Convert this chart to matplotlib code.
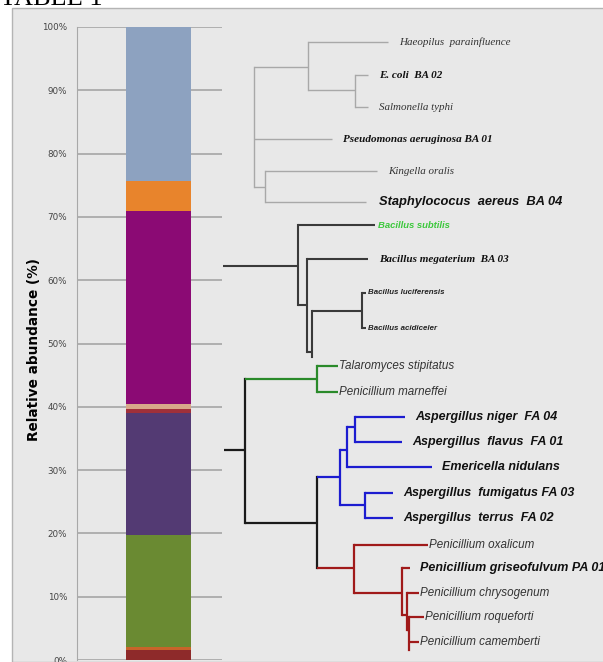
import matplotlib.pyplot as plt
from matplotlib.patches import Rectangle

# stacked bar (values in %, from bottom to top)
seg_values = [1.6, 0.5, 17.6, 19.3, 0.6, 0.8, 30.5, 4.8, 24.3]
seg_colors = ['#8e2a2a', '#c8642a', '#6a8a32', '#533a73', '#a0303a',
              '#d8a88a', '#8b0a74', '#e8842c', '#8da2c0']
yticks = [0, 10, 20, 30, 40, 50, 60, 70, 80, 90, 100]
ytick_labels = ['0%', '10%', '20%', '30%', '40%', '50%', '60%', '70%', '80%', '90%', '100%']


# trees, read in image pixels: node(x, y, kids...), leaf(x_end, y, name, style)
def node(x, y, *kids, color=None):
    return {'x': x, 'y': y, 'kids': kids, 'color': color}


def leaf(x, y, name='', style='serif_i', color=None):
    return {'x': x, 'y': y, 'kids': (), 'name': name, 'style': style, 'color': color}


ecoli = node(355, 90,
             leaf(368, 75, 'E. coli  BA 02', 'serif_bi'),
             leaf(368, 107, 'Salmonella typhi'))
haeo = node(308, 67, leaf(388, 42, 'Haeopilus  parainfluence'), ecoli)
staph = node(265, 187,
             leaf(377, 171, 'Kingella oralis'),
             leaf(366, 202, 'Staphylococus  aereus  BA 04', 'sans_big'))
bact_tree = node(254, 127, haeo,
                 leaf(332, 139, 'Pseudomonas aeruginosa BA 01', 'serif_bi'),
                 staph, color='#a8a8a8')
bact_stem = None

luci = node(362, 311,
            leaf(366, 293, 'Bacillus luciferensis', 'sans_small'),
            leaf(366, 328, 'Bacillus acidiceler', 'sans_small'))
mega = node(307, 305,
            leaf(368, 259, 'Bacillus megaterium  BA 03', 'serif_bi'),
            node(312, 352, luci, leaf(312, 357)))
bacil_tree = node(298, 266, leaf(375, 225, 'Bacillus subtilis', 'sans_small_green'),
                  mega, color='#3a3a3a')
bacil_stem = 223

talaro = node(317, 379,
              leaf(338, 366, 'Talaromyces stipitatus', 'sans_i'),
              leaf(338, 392, 'Penicillium marneffei', 'sans_i'),
              color='#2a8a2a')
niger = node(355, 427,
             leaf(405, 417, 'Aspergillus niger  FA 04', 'sans_bi'),
             leaf(402, 442, 'Aspergillus  flavus  FA 01', 'sans_bi'))
fumig = node(365, 505,
             leaf(393, 493, 'Aspergillus  fumigatus FA 03', 'sans_bi'),
             leaf(393, 518, 'Aspergillus  terrus  FA 02', 'sans_bi'))
asper = node(340, 477,
             node(347, 450, niger, leaf(432, 467, 'Emericella nidulans', 'sans_bi')),
             fumig, color='#1c1cd0')
roque = node(409, 630,
             leaf(424, 617, 'Penicillium roqueforti', 'sans_i'),
             leaf(419, 642, 'Penicillium camemberti', 'sans_i'),
             leaf(409, 650))
chryso = node(407, 615, leaf(419, 593, 'Penicillium chrysogenum', 'sans_i'), roque)
grise = node(402, 593, leaf(410, 568, 'Penicillium griseofulvum PA 01', 'sans_bi'), chryso)
penic = node(354, 568, leaf(428, 545, 'Penicillium oxalicum', 'sans_i'), grise,
             color='#a01a1a')
fungi_tree = node(245, 450, talaro, node(317, 523, asper, penic), color='#1a1a1a')
fungi_stem = 224

label_styles = {
    'serif_i': dict(family='Liberation Serif', style='italic', size=7.9, color='#333333', gap=11),
    'serif_bi': dict(family='Liberation Serif', style='italic', weight='bold', size=8.0, color='#111111', gap=11),
    'sans_big': dict(family='Liberation Sans', style='italic', weight='bold', size=9.3, color='#111111', gap=13),
    'sans_small': dict(family='Liberation Sans', style='italic', weight='bold', size=5.7, color='#222222', gap=2),
    'sans_small_green': dict(family='Liberation Sans', style='italic', weight='bold', size=6.8, color='#3cc83c', gap=3),
    'sans_i': dict(family='Liberation Sans', style='italic', size=8.4, color='#333333', gap=1),
    'sans_bi': dict(family='Liberation Sans', style='italic', weight='bold', size=9.0, color='#111111', gap=10),
}

W, H = 603, 662
fig = plt.figure(figsize=(W / 100, H / 100), dpi=100)

# grey panel
fig.patches.append(Rectangle((12 / W, 0), 1, 1 - 8 / H, transform=fig.transFigure,
                             facecolor='#e8e8e8', edgecolor='#b4b4b4', lw=1.0, zorder=-5))
fig.text(0.0, 1 - 5 / H, 'TABLE 1', family='Liberation Serif', fontsize=19, va='baseline')

# bar axes
ax = fig.add_axes([77 / W, 2 / H, (222 - 77) / W, (660 - 27) / H])
ax.set_facecolor('none')
bottom = 0
for v, c in zip(seg_values, seg_colors):
    ax.bar(0, v, width=1, bottom=bottom, color=c, zorder=3)
    bottom += v
ax.set_xlim(-1.254, 0.977)
ax.set_ylim(0, 100)
ax.set_yticks(yticks)
ax.set_yticklabels(ytick_labels, fontsize=6.3, color='#444444')
ax.set_xticks([])
ax.tick_params(axis='y', length=0, pad=7)
ax.yaxis.grid(True, color='#a0a0a0', lw=1.1)
ax.set_axisbelow(True)
for s in ['top', 'right', 'bottom']:
    ax.spines[s].set_visible(False)
ax.spines['left'].set_color('#a8a8a8')
ax.set_ylabel('Relative abundance (%)', fontsize=9.8, fontweight='bold')
ax.yaxis.set_label_coords(-0.25, 0.49)

# tree overlay in pixel space
tax = fig.add_axes([0, 0, 1, 1])
tax.set_xlim(0, W)
tax.set_ylim(H, 0)
tax.axis('off')
tax.patch.set_alpha(0)


def draw(n, parent_x, color, lw):
    c = n['color'] or color
    if parent_x is not None:
        tax.plot([parent_x, n['x']], [n['y'], n['y']], color=c, lw=lw,
                 solid_capstyle='butt')
    if n['kids']:
        ys = [k['y'] for k in n['kids']]
        tax.plot([n['x'], n['x']], [min(ys), max(ys)], color=c, lw=lw,
                 solid_capstyle='projecting')
        for k in n['kids']:
            draw(k, n['x'], c, lw)
    elif n['name']:
        st = dict(label_styles[n['style']])
        gap = st.pop('gap')
        tax.text(n['x'] + gap, n['y'], n['name'], va='center', ha='left', **st)


draw(bact_tree, bact_stem, '#a8a8a8', 1.0)
draw(bacil_tree, bacil_stem, '#3a3a3a', 1.5)
draw(fungi_tree, fungi_stem, '#1a1a1a', 1.6)

fig.savefig('out.png', dpi=100)
